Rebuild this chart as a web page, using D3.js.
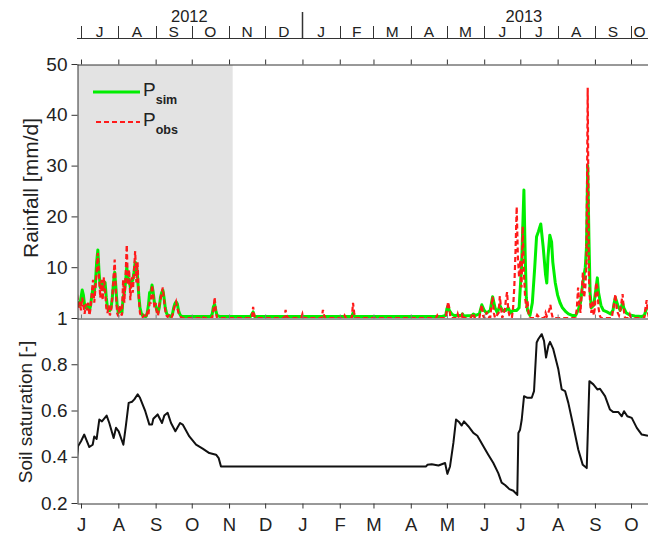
<!DOCTYPE html>
<html>
<head>
<meta charset="utf-8">
<script src="https://cdn.jsdelivr.net/npm/d3@7"></script>
<style>
  html, body { margin: 0; padding: 0; background: #fff; }
  svg { display: block; font-family: "Liberation Sans", Arial, sans-serif; }
</style>
</head>
<body>
<svg id="chart" width="648" height="536"></svg>
<script>
// Day 0 of every day index below is 1 July 2012.
const dayZero = new Date(2012, 6, 1);

// Daily rainfall block, first entry is day -4 (27 Jun 2012) [mm/d]
const dailyFrom = -4;
const obsDaily = [3.5, 4.0, 2.0, 3.2, 1.5, 4.0, 2.5, 0.8, 2.8, 1.5, 3.0, 0.5, 2.0, 5.0, 7.5, 3.0,
  6.0, 9.0, 12.8, 8.0, 4.0, 7.5, 3.5, 8.0, 5.5, 2.0, 1.0, 2.5, 0.5, 1.5, 4.0, 8.0, 11.5, 5.0,
  1.0, 0.3, 2.5, 1.0, 0.5, 7.5, 3.0, 8.0, 14.4, 6.5, 9.5, 3.5, 8.0, 5.0, 9.0, 13.2, 7.0, 11.0,
  4.0, 1.0, 0.3, 0, 0.5, 0, 0.2, 1.0, 0.5, 3.0, 3.0, 6.5, 4.5, 2.0, 3.0, 1.0, 0.5, 2.5, 3.5,
  5.0, 6.0, 3.5, 1.5, 0.5, 0.2, 0.5, 0.2, 0, 0.5, 1.5, 2.5, 3.2, 2.0, 1.0, 0.5, 0.2, 0];
const simDaily = [2.0, 3.0, 3.0, 2.5, 4.0, 5.5, 4.5, 2.5, 2.0, 2.5, 2.0, 1.5, 2.5, 4.5, 6.0, 5.0,
  7.0, 11.0, 13.4, 9.0, 6.0, 7.0, 6.5, 5.5, 7.0, 4.0, 2.0, 1.5, 1.5, 2.0, 4.0, 7.0, 9.0, 6.0,
  2.5, 1.0, 1.5, 1.5, 1.0, 4.0, 5.0, 7.0, 10.0, 8.0, 7.5, 6.0, 7.0, 7.5, 9.0, 11.0, 10.5, 8.0,
  4.5, 2.0, 1.0, 0.5, 0.5, 0.3, 0.3, 1.0, 2.5, 5.0, 5.0, 6.5, 5.0, 3.0, 2.5, 1.5, 1.0, 2.0, 4.0,
  5.0, 5.5, 4.0, 2.0, 1.0, 0.5, 0.5, 0.3, 0.3, 0.8, 2.0, 2.8, 3.2, 2.8, 1.5, 0.8, 0.4, 0.3];

// Later rainfall as [day, mm/d]
const obsLater = [[100,0],[101,0.3],[102,0],[109,0],[110,1.5],[111,4.1],[112,1.5],[113,0],
  [142,0],[143,2.2],[144,0.5],[145,0],[169,0],[170,1.6],[171,0.3],[172,0],[183,0],[184,0.8],
  [185,0],[200,0],[201,1.6],[202,0.5],[203,0],[218,0],[219,0.5],[220,0],[225,0],[226,3.0],
  [227,1.0],[228,0],[295,0],[296,0.5],[297,0],[303,0],[304,1.5],[305,3.2],[306,2.0],[307,0],
  [312,0],[313,0.8],[314,0],[316,0],[317,1.0],[318,0],[324,0],[325,0.8],[326,0.9],[327,0],
  [331,0],[332,1.5],[333,2.6],[334,0.5],[335,0],[336,0],[337,1.2],[338,0.3],[340,0],[341,2.5],
  [342,4.2],[343,1.0],[344,0],[347,1.0],[348,4.3],[349,2.0],[350,0],[352,1.5],[353,3.5],
  [354,5.1],[355,1.5],[356,0.5],[358,0],[359,2.0],[360,6.0],[361,13.0],[362,21.9],[363,12.0],
  [364,8.0],[365,11.4],[366,6.0],[367,18.0],[368,9.0],[369,4.0],[370,2.0],[371,3.3],[372,0.5],
  [373,0],[378,0],[379,0.6],[380,0.3],[381,0],[385,0],[386,1.0],[387,0.3],[389,1.5],[390,2.6],
  [391,1.0],[392,0],[411,0],[412,2.0],[413,6.0],[414,3.0],[415,1.0],[416,5.0],[417,9.0],
  [418,4.0],[419,6.0],[420,10.4],[421,45.3],[422,8.0],[423,3.0],[424,1.0],[425,3.5],[426,0.5],
  [427,2.0],[428,7.0],[429,6.0],[430,2.0],[431,0.5],[432,0],[441,0],[442,1.5],[443,3.0],
  [444,4.7],[445,2.0],[446,1.0],[447,0.5],[448,1.5],[449,3.0],[450,4.7],[451,1.5],[452,0],
  [455,0],[456,0.7],[457,0],[468,0],[469,2.0],[470,3.5],[471,1.0],[472,0]];
const simLater = [[90,0.3],[108,0.3],[109,0.8],[110,2.2],[111,2.7],[112,1.5],[113,0.5],[115,0.3],
  [141,0.3],[142,0.8],[143,1.2],[144,0.3],[225,0.3],[226,1.0],[227,0.3],[300,0.3],[303,0.5],
  [304,1.8],[305,2.4],[306,1.5],[308,0.8],[310,0.5],[316,0.5],[317,0.8],[318,0.4],[325,0.5],
  [326,0.8],[328,0.5],[331,0.8],[333,2.6],[335,1.5],[337,1.0],[340,1.5],[342,4.2],[344,2.0],
  [346,1.0],[348,2.5],[350,1.5],[353,1.5],[355,2.0],[357,1.0],[359,1.5],[362,1.5],[364,2.0],
  [366,10],[368,25.2],[369,13],[370,4],[371,1.5],[373,0.5],[375,3],[377,10],[378.5,16],
  [380,17],[382,18.5],[384,14],[386,8.5],[387,6.9],[388,12],[389.5,16.3],[391,15],[392,11],
  [394,7],[396,4.5],[398,3],[400,2],[403,1.2],[405,0.8],[408,0.5],[411,0.5],[413,1.5],[415,3],
  [417,7],[419,10],[420,14],[421,30],[422,16],[423,5],[424,2],[426,2.5],[428,6],[429,7.9],
  [430,5],[432,2.5],[434,1.5],[437,1.2],[440,0.8],[442,1.5],[443,3],[444,4],[446,2.5],
  [448,1.5],[450,3],[451,2],[453,1],[456,0.6],[460,0.4],[466,0.3],[468,0.5],[470,2]];

// Soil saturation as [day, saturation]
const soilSaturation = [[-3.3,0.40],[-2.5,0.445],[0,0.467],[2.7,0.496],[6.9,0.442],[9.7,0.452],
  [11,0.488],[13,0.477],[15.2,0.561],[17.4,0.553],[21.3,0.578],[23.5,0.546],[27.1,0.481],
  [29.1,0.525],[31.3,0.51],[35.2,0.452],[37.4,0.539],[39.6,0.633],[42.4,0.638],[44.3,0.648],
  [47.1,0.67],[49,0.655],[53.4,0.597],[56.8,0.539],[59,0.539],[60.1,0.564],[63.7,0.583],
  [67.3,0.546],[69.2,0.578],[72,0.59],[74.8,0.546],[78.4,0.51],[82.3,0.546],[84.5,0.539],
  [90,0.488],[95.6,0.452],[101.1,0.435],[106.6,0.416],[112.2,0.409],[114.4,0.394],[116.3,0.358],
  [286.7,0.358],[287.8,0.365],[291.4,0.368],[297,0.362],[302.5,0.373],[304.4,0.326],[306.6,0.358],
  [309.4,0.46],[311.6,0.561],[314.3,0.549],[316.3,0.535],[318.2,0.553],[321.8,0.532],[326,0.503],
  [329.3,0.491],[334.3,0.445],[338.4,0.409],[342.6,0.373],[346.7,0.329],[349.5,0.288],
  [352.3,0.278],[355.9,0.26],[359.2,0.253],[362.5,0.235],[363.4,0.503],[364.8,0.517],
  [366.2,0.561],[368.1,0.662],[370.9,0.655],[374.5,0.655],[376.4,0.684],[378.6,0.894],
  [380,0.909],[382.8,0.93],[384.7,0.901],[386.4,0.829],[388.3,0.88],[389.7,0.897],[392.4,0.865],
  [396.6,0.778],[399.4,0.691],[402.2,0.684],[404.9,0.633],[409.1,0.532],[413.2,0.43],
  [416.9,0.365],[420.2,0.351],[422.4,0.727],[425.7,0.713],[429,0.691],[431.2,0.694],
  [435.4,0.662],[439.5,0.604],[442.3,0.593],[446.5,0.593],[449.3,0.575],[451.2,0.597],
  [453.9,0.575],[457.6,0.568],[461.8,0.525],[465.9,0.496],[471.1,0.491]];

// Axis ticks and labels
const rainTicks = [10, 20, 30, 40, 50];
const soilTicks = [0.2, 0.4, 0.6, 0.8, 1];
const monthLetters = ["J", "F", "M", "A", "M", "J", "J", "A", "S", "O", "N", "D"];
const yearLabels = [["2012", "2012-09-29"], ["2013", "2013-07-04"]];
const shadedPeriod = ["2012-06-20", "2012-11-04"];
const legendItems = [["P", "sim"], ["P", "obs"]];

// ---------------------------------------------------------------
const toDate = d => new Date(dayZero.getTime() + d * 864e5);
const parse = d3.timeParse("%Y-%m-%d");

const svg = d3.select("#chart");
const L = 77, R = 648;
const x = d3.scaleTime()
  .domain([toDate(-3.33), toDate(471.1)])
  .range([L, R]);
const yRain = d3.scaleLinear().domain([0, 50]).range([318, 64]);
const ySoil = d3.scaleLinear().domain([0.2, 1]).range([503, 318]);

const axisColor = "#333";
const defs = svg.append("defs");
defs.append("clipPath").attr("id", "clipTop")
  .append("rect").attr("x", L + 1).attr("y", 60).attr("width", R - L).attr("height", 258);
defs.append("clipPath").attr("id", "clipBottom")
  .append("rect").attr("x", L + 1).attr("y", 318).attr("width", R - L).attr("height", 186);

// Shaded spin-up period
svg.append("rect")
  .attr("x", x(parse(shadedPeriod[0])))
  .attr("y", 65)
  .attr("width", x(parse(shadedPeriod[1])) - x(parse(shadedPeriod[0])))
  .attr("height", 253)
  .attr("fill", "#e3e3e3")
  .attr("clip-path", "url(#clipTop)");

// Rainfall series
const obsSeries = obsDaily.map((v, i) => [dailyFrom + i, v]).concat(obsLater);
const simSeries = simDaily.map((v, i) => [dailyFrom + i, v]).concat(simLater);
const rainLine = d3.line().x(d => x(toDate(d[0]))).y(d => yRain(d[1]));

const gTop = svg.append("g").attr("clip-path", "url(#clipTop)");
gTop.append("path").datum(simSeries)
  .attr("d", rainLine)
  .attr("fill", "none").attr("stroke", "#00ee00").attr("stroke-width", 3)
  .attr("stroke-linejoin", "round");
gTop.append("path").datum(obsSeries)
  .attr("d", rainLine)
  .attr("fill", "none").attr("stroke", "#ff1a1a").attr("stroke-width", 2.2)
  .attr("stroke-dasharray", "5,3");

// Soil saturation
const soilLine = d3.line().x(d => x(toDate(d[0]))).y(d => ySoil(d[1]));
svg.append("g").attr("clip-path", "url(#clipBottom)")
  .append("path").datum(soilSaturation)
  .attr("d", soilLine)
  .attr("fill", "none").attr("stroke", "#111").attr("stroke-width", 2)
  .attr("stroke-linejoin", "round");

// Month ticks
const months = d3.timeMonth.range(new Date(2012, 6, 1), x.domain()[1]);

function styleAxis(g) {
  g.selectAll("path.domain").attr("stroke", axisColor);
  g.selectAll(".tick line").attr("stroke", axisColor);
  g.selectAll("text").attr("fill", "#222");
}

// Top edge of the rainfall panel
svg.append("g").attr("transform", "translate(0,64.5)")
  .call(d3.axisTop(x).tickValues(months).tickSize(5).tickSizeOuter(0).tickFormat(""))
  .call(styleAxis);
// Boundary between panels, ticks pointing into the rainfall panel
svg.append("g").attr("transform", "translate(0,318.5)")
  .call(d3.axisTop(x).tickValues(months).tickSize(4).tickSizeOuter(0).tickFormat(""))
  .call(g => { styleAxis(g); g.selectAll(".tick line").attr("stroke", "#777"); });

// Bottom time axis
svg.append("g").attr("transform", "translate(0,503.5)")
  .call(d3.axisBottom(x).tickValues(months).tickSize(5).tickSizeOuter(0)
    .tickPadding(9).tickFormat(d => monthLetters[d.getMonth()]))
  .call(styleAxis)
  .call(g => g.selectAll("text").attr("font-size", 18.5));

// Left axes
svg.append("g").attr("transform", `translate(${L + 0.5},0)`)
  .call(d3.axisLeft(yRain).tickValues(rainTicks).tickSize(6).tickSizeOuter(0).tickPadding(4))
  .call(styleAxis)
  .call(g => g.selectAll("text").attr("font-size", 19));
svg.append("g").attr("transform", `translate(${L + 0.5},0)`)
  .call(d3.axisLeft(ySoil).tickValues(soilTicks).tickSize(6).tickSizeOuter(0).tickPadding(4)
    .tickFormat(d3.format("")))
  .call(styleAxis)
  .call(g => g.selectAll("text").attr("font-size", 19));

// Calendar strip on top
const strip = svg.append("g");
strip.append("line").attr("x1", L).attr("x2", R).attr("y1", 38.5).attr("y2", 38.5)
  .attr("stroke", axisColor);
strip.selectAll("line.m").data(months).join("line")
  .attr("class", "m")
  .attr("x1", d => Math.round(x(d)) + 0.5).attr("x2", d => Math.round(x(d)) + 0.5)
  .attr("y1", d => d.getMonth() === 0 ? 12 : 26).attr("y2", 38.5)
  .attr("stroke", axisColor).attr("stroke-width", d => d.getMonth() === 0 ? 1.5 : 1);
strip.selectAll("text.m").data(months).join("text")
  .attr("class", "m")
  .attr("x", d => (x(d) + Math.min(x(d3.timeMonth.offset(d, 1)), R)) / 2)
  .attr("y", 37)
  .attr("text-anchor", "middle").attr("font-size", 15.5).attr("fill", "#222")
  .text(d => monthLetters[d.getMonth()]);
strip.selectAll("text.y").data(yearLabels).join("text")
  .attr("class", "y")
  .attr("x", d => x(parse(d[1])))
  .attr("y", 22)
  .attr("text-anchor", "middle").attr("font-size", 16.5).attr("fill", "#222")
  .text(d => d[0]);

// Axis titles
svg.append("text")
  .attr("transform", "translate(38,188) rotate(-90)")
  .attr("text-anchor", "middle").attr("font-size", 21).attr("fill", "#222")
  .text("Rainfall [mm/d]");
svg.append("text")
  .attr("transform", "translate(32,412) rotate(-90)")
  .attr("text-anchor", "middle").attr("font-size", 19).attr("fill", "#222")
  .text("Soil saturation [-]");

// Legend
const legend = svg.append("g");
const legendStyles = [
  { stroke: "#00ee00", width: 3, dash: null, x1: 93, y: 92 },
  { stroke: "#ff1a1a", width: 2.2, dash: "5,3", x1: 96, y: 122 }
];
legendItems.forEach((item, i) => {
  const s = legendStyles[i];
  legend.append("line")
    .attr("x1", s.x1).attr("x2", 140).attr("y1", s.y).attr("y2", s.y)
    .attr("stroke", s.stroke).attr("stroke-width", s.width)
    .attr("stroke-dasharray", s.dash);
  const t = legend.append("text").attr("x", 143).attr("y", s.y + 4)
    .attr("font-size", 19).attr("fill", "#222");
  t.append("tspan").text(item[0]);
  t.append("tspan").attr("dy", 8).attr("font-size", 12.5).attr("font-weight", "bold")
    .text(item[1]);
});
</script>
</body>
</html>
